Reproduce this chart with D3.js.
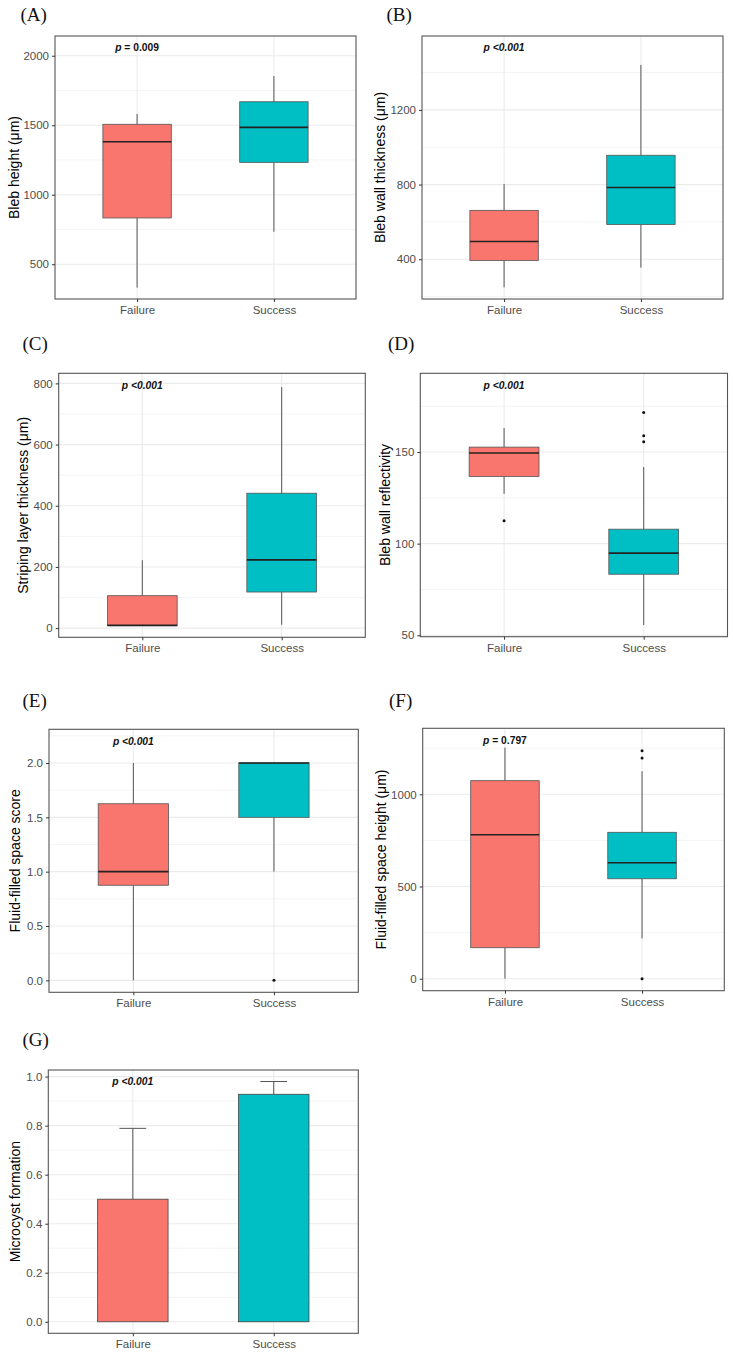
<!DOCTYPE html>
<html><head><meta charset="utf-8">
<script src="https://cdn.jsdelivr.net/npm/d3@7"></script>
<style>
body{margin:0;background:#fff}
text{font-family:"Liberation Sans",Arial,sans-serif}
text.pid{font-family:"Liberation Serif","Times New Roman",serif}
</style></head>
<body><svg id="c" width="733" height="1354"></svg>
<script>
// ---------------- DATA ----------------
const categories = ["Failure", "Success"];
const panelIds = ["(A)", "(B)", "(C)", "(D)", "(E)", "(F)", "(G)"];
const yTitles = ["Bleb height (\u03bcm)", "Bleb wall thickness (\u03bcm)", "Striping layer thickness (\u03bcm)",
  "Bleb wall reflectivity", "Fluid-filled space score", "Fluid-filled space height (\u03bcm)", "Microcyst formation"];
const pRest = [" = 0.009", " <0.001", " <0.001", " <0.001", " <0.001", " = 0.797", " <0.001"];
const pRestItalic = [false, true, true, true, true, false, true];

// box stats: [min, q1, median, q3, max] for Failure, Success
const boxA = [[332, 833, 1381, 1507, 1581], [734, 1233, 1485, 1669, 1854]];
const boxB = [[250, 393, 495, 662, 803], [355, 586, 784, 957, 1441]];
const boxC = [[8, 8, 9, 106, 222], [11, 118, 223, 441, 788]];
const boxD = [[127.2, 136.7, 149.5, 152.7, 163.1], [55.6, 83.3, 94.8, 107.9, 141.8]];
const boxE = [[0, 0.875, 1.0, 1.625, 2.0], [1.0, 1.5, 2.0, 2.0, 2.0]];
const boxF = [[0, 168, 781, 1074, 1253], [219, 542, 629, 794, 1125]];
// outliers per category
const outA = [[], []];
const outB = [[], []];
const outC = [[], []];
const outD = [[112.5], [171.6, 158.9, 155.6]];
const outE = [[], [0]];
const outF = [[], [1236, 1197, 0]];
// panel G: bar means and upper error values
const barG = [0.5, 0.928];
const errG = [0.789, 0.98];

// tick labels
const ticksA = [500, 1000, 1500, 2000];
const ticksB = [400, 800, 1200];
const ticksC = [0, 200, 400, 600, 800];
const ticksD = [50, 100, 150];
const ticksE = [0, 0.5, 1.0, 1.5, 2.0];
const ticksF = [0, 500, 1000];
const ticksG = [0, 0.2, 0.4, 0.6, 0.8, 1.0];

// ---------------- LAYOUT ----------------
const fill = ["#F8766D", "#00BFC4"];
const panels = [
  {rect:[55, 356, 36, 299], dom:[250, 2142], ticks:ticksA, fmt:"d", box:boxA, out:outA, lab:[20.5, 20.5], tx:14},
  {rect:[422, 723, 36, 299], dom:[187, 1596], ticks:ticksB, fmt:"d", box:boxB, out:outB, lab:[386.5, 20.5], tx:380},
  {rect:[58.7, 365.3, 373.3, 637.3], dom:[-30, 833], ticks:ticksC, fmt:"d", box:boxC, out:outC, lab:[22.5, 349.5], tx:23},
  {rect:[420.3, 727.5, 373.3, 636.7], dom:[49.2, 193], ticks:ticksD, fmt:"d", box:boxD, out:outD, lab:[388, 349.5], tx:384.5},
  {rect:[49, 358.3, 729.3, 992.3], dom:[-0.11, 2.31], ticks:ticksE, fmt:".1f", box:boxE, out:outE, lab:[22.5, 706.5], tx:14.5},
  {rect:[422.7, 724.3, 728.3, 990.7], dom:[-65, 1358], ticks:ticksF, fmt:"d", box:boxF, out:outF, lab:[389, 706.5], tx:381},
  {rect:[48.3, 358.3, 1070, 1333.3], dom:[-0.047, 1.027], ticks:ticksG, fmt:".1f", bar:barG, err:errG, lab:[22.5, 1045.5], tx:14.5}
];

const svg = d3.select("#c");

panels.forEach((p, i) => {
  const [x0, x1, y0, y1] = p.rect;
  const g = svg.append("g");
  const y = d3.scaleLinear().domain(p.dom).range([y1, y0]);
  const x = d3.scalePoint().domain(categories).range([x0, x1]).padding(0.6);
  const bw = x.step() * 0.5;

  // minor breaks
  const t = p.ticks, st = t[1] - t[0];
  const ext = [t[0] - st, ...t, t[t.length - 1] + st];
  const minor = [];
  for (let k = 0; k < ext.length - 1; k++) {
    const m = (ext[k] + ext[k + 1]) / 2;
    if (m > p.dom[0] && m < p.dom[1]) minor.push(m);
  }
  g.selectAll(".mn").data(minor).join("line")
    .attr("x1", x0).attr("x2", x1).attr("y1", d => y(d)).attr("y2", d => y(d))
    .attr("stroke", "#f4f4f4").attr("stroke-width", 1);
  g.selectAll(".mj").data(t).join("line")
    .attr("x1", x0).attr("x2", x1).attr("y1", d => y(d)).attr("y2", d => y(d))
    .attr("stroke", "#ebebeb").attr("stroke-width", 1.1);
  g.selectAll(".vg").data(categories).join("line")
    .attr("x1", d => x(d)).attr("x2", d => x(d)).attr("y1", y0).attr("y2", y1)
    .attr("stroke", "#ebebeb").attr("stroke-width", 1.1);

  if (p.box) {
    categories.forEach((c, j) => {
      const s = p.box[j], cx = x(c);
      g.append("line").attr("x1", cx).attr("x2", cx).attr("y1", y(s[0])).attr("y2", y(s[1]))
        .attr("stroke", "#555").attr("stroke-width", 1);
      g.append("line").attr("x1", cx).attr("x2", cx).attr("y1", y(s[3])).attr("y2", y(s[4]))
        .attr("stroke", "#555").attr("stroke-width", 1);
      g.append("rect").attr("x", cx - bw / 2).attr("width", bw)
        .attr("y", y(s[3])).attr("height", Math.max(0.5, y(s[1]) - y(s[3])))
        .attr("fill", fill[j]).attr("stroke", "#555").attr("stroke-width", 0.8);
      g.append("line").attr("x1", cx - bw / 2).attr("x2", cx + bw / 2).attr("y1", y(s[2])).attr("y2", y(s[2]))
        .attr("stroke", "#222").attr("stroke-width", 1.6);
      g.selectAll(null).data(p.out[j]).join("circle")
        .attr("cx", cx).attr("cy", d => y(d)).attr("r", 1.5).attr("fill", "#111");
    });
  } else {
    categories.forEach((c, j) => {
      const cx = x(c), cw = x.step() * 0.19;
      g.append("line").attr("x1", cx).attr("x2", cx).attr("y1", y(p.bar[j])).attr("y2", y(p.err[j]))
        .attr("stroke", "#555").attr("stroke-width", 1);
      g.append("line").attr("x1", cx - cw / 2).attr("x2", cx + cw / 2).attr("y1", y(p.err[j])).attr("y2", y(p.err[j]))
        .attr("stroke", "#555").attr("stroke-width", 1);
      g.append("rect").attr("x", cx - bw / 2).attr("width", bw)
        .attr("y", y(p.bar[j])).attr("height", y(0) - y(p.bar[j]))
        .attr("fill", fill[j]).attr("stroke", "#444").attr("stroke-width", 0.8);
    });
  }

  // border
  g.append("rect").attr("x", x0).attr("y", y0).attr("width", x1 - x0).attr("height", y1 - y0)
    .attr("fill", "none").attr("stroke", "#555").attr("stroke-width", 1.1);

  // axes
  const ya = g.append("g").attr("transform", `translate(${x0},0)`)
    .call(d3.axisLeft(y).tickValues(t).tickSize(3).tickPadding(3).tickFormat(d3.format(p.fmt)));
  ya.select(".domain").remove();
  ya.selectAll("line").attr("stroke", "#333");
  ya.selectAll("text").attr("fill", "#4d4d4d").attr("font-size", 11.5);
  const xa = g.append("g").attr("transform", `translate(0,${y1})`)
    .call(d3.axisBottom(x).tickSize(3).tickPadding(4));
  xa.select(".domain").remove();
  xa.selectAll("line").attr("stroke", "#333");
  xa.selectAll("text").attr("fill", "#4d4d4d").attr("font-size", 11.5);

  // y title
  g.append("text").attr("transform", `translate(${p.tx},${(y0 + y1) / 2}) rotate(-90)`)
    .attr("text-anchor", "middle").attr("dominant-baseline", "central")
    .attr("font-size", 14).attr("fill", "#000").text(yTitles[i]);

  // p label
  const pt = g.append("text").attr("x", x(categories[0])).attr("y", y0 + 15.3)
    .attr("text-anchor", "middle").attr("font-size", 10.3).attr("font-weight", "bold").attr("fill", "#111");
  pt.append("tspan").attr("font-style", "italic").text("p");
  pt.append("tspan").attr("font-style", pRestItalic[i] ? "italic" : "normal").text(pRest[i]);

  // panel id
  svg.append("text").attr("class", "pid").attr("x", p.lab[0]).attr("y", p.lab[1])
    .attr("font-size", 19).attr("fill", "#111").text(panelIds[i]);
});
</script></body></html>
